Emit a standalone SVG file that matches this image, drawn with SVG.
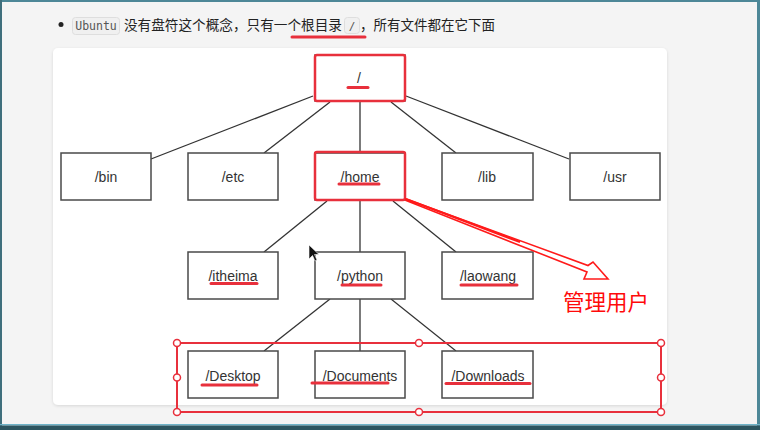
<svg xmlns="http://www.w3.org/2000/svg" width="760" height="430" viewBox="0 0 760 430">
<defs>
<style>
.box{fill:#fff;stroke:#4a4a4a;stroke-width:1.5}
.lbl{font-family:"Liberation Sans",Arial,sans-serif;font-size:14px;fill:#333;text-anchor:middle}
.conn line{stroke:#333;stroke-width:1.3}
.ul{stroke:#e8303c;stroke-width:3;stroke-linecap:round}
.hl{fill:none;stroke:#e8303c;stroke-width:2.5}
.cjk{font-family:"Noto Sans CJK SC","Noto Sans",sans-serif}
.handle{fill:#fff;stroke:#e8303c;stroke-width:1.5}
</style>
<filter id="sh" x="-5%" y="-5%" width="110%" height="110%">
<feDropShadow dx="0" dy="1" stdDeviation="1.5" flood-color="#000" flood-opacity="0.12"/>
</filter>
</defs>
<!-- page background and frame -->
<rect x="0" y="0" width="760" height="430" fill="#f4f4f4"/>
<rect x="0" y="0" width="760" height="2" fill="#4d8797"/>
<rect x="0" y="0" width="2" height="430" fill="#3f6f7c"/>
<rect x="757" y="0" width="3" height="430" fill="#4d8797"/>
<rect x="0" y="424" width="760" height="1.5" fill="#6fb3c8"/>
<rect x="0" y="425.5" width="760" height="4.5" fill="#2d5560"/>

<!-- header -->
<g id="header">
<circle cx="61" cy="24.5" r="2.5" fill="#222"/>
<rect x="72.5" y="17.5" width="47" height="17" rx="3" fill="#f0f0f0" stroke="#dedede"/>
<text x="96" y="30" font-family="'DejaVu Sans Mono','Liberation Mono',monospace" font-size="11.5" fill="#555" text-anchor="middle">Ubuntu</text>
<text class="cjk" x="124" y="30" font-size="13.5" fill="#222" textLength="218" lengthAdjust="spacingAndGlyphs">没有盘符这个概念，只有一个根目录</text>
<rect x="344.5" y="17.5" width="15" height="16" rx="3" fill="#f0f0f0" stroke="#dedede"/>
<text x="352" y="29.5" font-family="'DejaVu Sans Mono','Liberation Mono',monospace" font-size="11" fill="#555" text-anchor="middle">/</text>
<text class="cjk" x="360" y="30" font-size="13.5" fill="#222" textLength="135" lengthAdjust="spacingAndGlyphs">，所有文件都在它下面</text>
<line x1="292" y1="37" x2="365" y2="37" class="ul" stroke-width="2.5"/>
</g>

<!-- panel -->
<rect x="53" y="48" width="614" height="357" rx="5" fill="#fff" filter="url(#sh)"/>

<!-- connectors -->
<g id="connectors" class="conn">
<line x1="313" y1="96" x2="151" y2="159"/>
<line x1="330" y1="102" x2="264" y2="153"/>
<line x1="360" y1="101" x2="360" y2="153"/>
<line x1="391" y1="102" x2="456" y2="153"/>
<line x1="406" y1="96" x2="569" y2="159"/>
<line x1="327" y1="201" x2="264" y2="252"/>
<line x1="360" y1="200" x2="360" y2="252"/>
<line x1="393" y1="201" x2="456" y2="252"/>
<line x1="330" y1="299" x2="264" y2="351"/>
<line x1="360" y1="299" x2="360" y2="351"/>
<line x1="391" y1="299" x2="456" y2="351"/>
</g>

<!-- nodes -->
<g id="node-root">
<rect class="box" x="315" y="55" width="90" height="46"/>
<text class="lbl" x="359" y="83">/</text>
<rect class="hl" x="315" y="55" width="90" height="46" rx="2"/>
<line class="ul" x1="348" y1="87.5" x2="368" y2="87.5"/>
</g>
<g id="node-bin">
<rect class="box" x="61" y="153" width="90" height="47"/>
<text class="lbl" x="106" y="182">/bin</text>
</g>
<g id="node-etc">
<rect class="box" x="188" y="153" width="90" height="47"/>
<text class="lbl" x="233" y="182">/etc</text>
</g>
<g id="node-home">
<rect class="box" x="315" y="153" width="90" height="47"/>
<text class="lbl" x="360" y="182">/home</text>
<rect class="hl" x="315" y="152" width="90" height="48" rx="2"/>
<line class="ul" x1="339" y1="184" x2="379" y2="184"/>
</g>
<g id="node-lib">
<rect class="box" x="442" y="153" width="91" height="47"/>
<text class="lbl" x="487" y="182">/lib</text>
</g>
<g id="node-usr">
<rect class="box" x="570" y="153" width="90" height="47"/>
<text class="lbl" x="615" y="182">/usr</text>
</g>
<g id="node-itheima">
<rect class="box" x="188" y="252" width="90" height="47"/>
<text class="lbl" x="233" y="281">/itheima</text>
<line class="ul" x1="211" y1="283.5" x2="257" y2="283.5"/>
</g>
<g id="node-python">
<rect class="box" x="315" y="252" width="90" height="47"/>
<text class="lbl" x="360" y="281">/python</text>
<line class="ul" x1="342" y1="285" x2="381" y2="285"/>
</g>
<g id="node-laowang">
<rect class="box" x="442" y="252" width="91" height="47"/>
<text class="lbl" x="488" y="281">/laowang</text>
<line class="ul" x1="461" y1="285" x2="517" y2="285"/>
</g>
<g id="node-desktop">
<rect class="box" x="188" y="351" width="90" height="47"/>
<text class="lbl" x="233" y="381">/Desktop</text>
<line class="ul" x1="202" y1="385" x2="257" y2="385"/>
</g>
<g id="node-documents">
<rect class="box" x="315" y="351" width="90" height="47"/>
<text class="lbl" x="360" y="381">/Documents</text>
<line class="ul" x1="312" y1="383" x2="388" y2="383"/>
</g>
<g id="node-downloads">
<rect class="box" x="442" y="351" width="91" height="47"/>
<text class="lbl" x="488" y="381">/Downloads</text>
<line class="ul" x1="446" y1="383.5" x2="530" y2="383.5"/>
</g>

<!-- selection rectangle -->
<g id="selection">
<rect x="177" y="343" width="484" height="69" fill="none" stroke="#e8303c" stroke-width="2"/>
<circle class="handle" cx="177" cy="343" r="3.5"/>
<circle class="handle" cx="419" cy="343" r="3.5"/>
<circle class="handle" cx="661" cy="343" r="3.5"/>
<circle class="handle" cx="177" cy="377.5" r="3.5"/>
<circle class="handle" cx="661" cy="377.5" r="3.5"/>
<circle class="handle" cx="177" cy="412" r="3.5"/>
<circle class="handle" cx="419" cy="412" r="3.5"/>
<circle class="handle" cx="661" cy="412" r="3.5"/>
</g>

<!-- annotation arrow -->
<g id="annotation">
<path d="M406 199 L588 265.5 L593 262 L608 279 L584 279 L587 272 L406 200.5 Z" fill="none" stroke="#ff1a1a" stroke-width="1.6" stroke-linejoin="miter"/>
<line x1="406" y1="199" x2="520" y2="242" stroke="#ff1a1a" stroke-width="2.2"/>
<text class="cjk" x="563" y="310" font-size="21.5" fill="#ff0a0a">管理用户</text>
</g>

<!-- mouse cursor -->
<path d="M309 245 L309 259 L312.5 255.5 L315 261 L317 260 L314.5 254.5 L319 254.5 Z" fill="#111" stroke="#fff" stroke-width="0.6"/>
</svg>
